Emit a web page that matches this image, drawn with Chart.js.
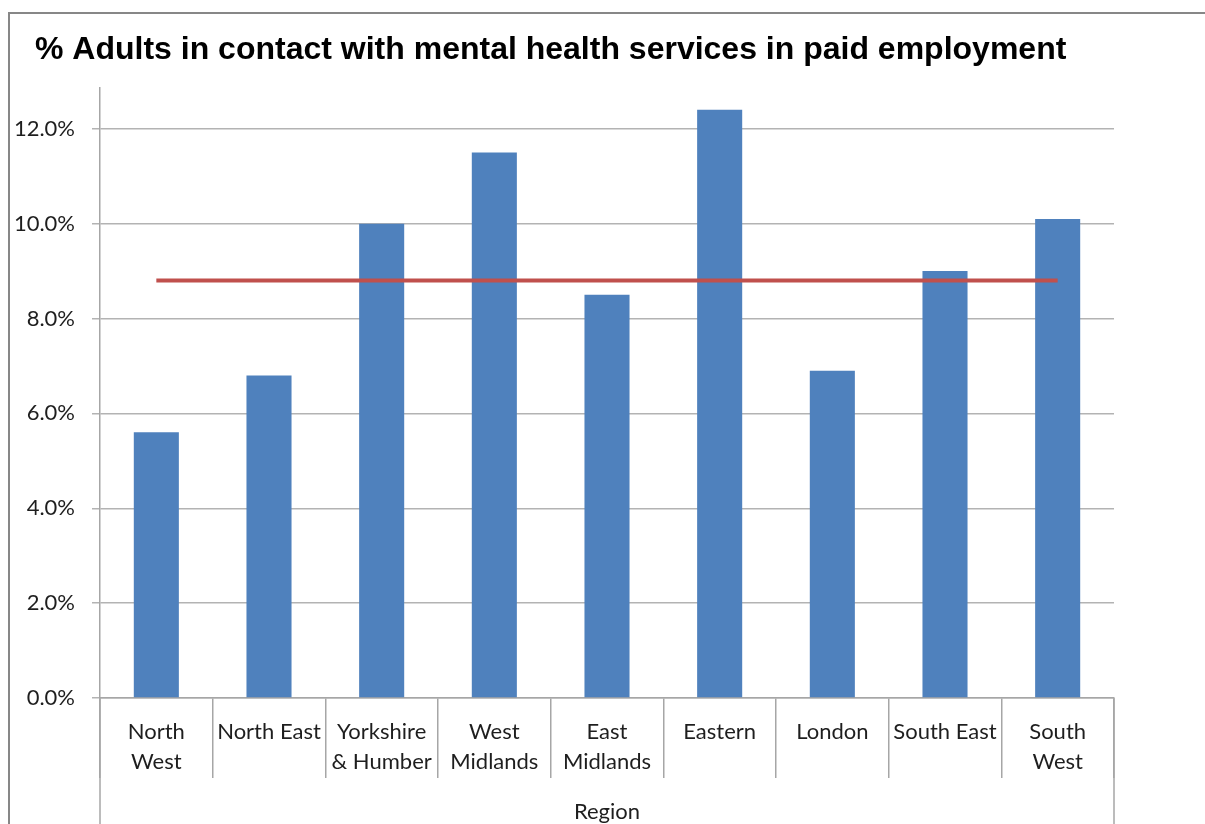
<!DOCTYPE html>
<html>
<head>
<meta charset="utf-8">
<script src="https://cdn.jsdelivr.net/npm/chart.js@4"></script>
<style>
  html, body { margin: 0; padding: 0; background: #fff; overflow: hidden; }
  #wrap { position: relative; width: 1205px; height: 824px; }
  #frame { position: absolute; left: 8px; top: 12px; width: 1300px; height: 900px;
           border-top: 2px solid #878787; border-left: 2px solid #878787; }
  #chart { position: absolute; left: 0; top: 0; }
</style>
</head>
<body>
<div id="wrap">
  <div id="frame"></div>
  <canvas id="chart" width="1205" height="824"></canvas>
</div>
<script>
const chartTitle = '% Adults in contact with mental health services in paid employment';
const regions = [
    ['North', 'West'], 'North East', ['Yorkshire', '& Humber'], ['West', 'Midlands'],
    ['East', 'Midlands'], 'Eastern', 'London', 'South East', ['South', 'West']
];
const employedPct = [5.6, 6.8, 10.0, 11.5, 8.5, 12.4, 6.9, 9.0, 10.1];
const averagePct = [8.8, 8.8, 8.8, 8.8, 8.8, 8.8, 8.8, 8.8, 8.8];
const yTicks = [0, 2, 4, 6, 8, 10, 12];

// title sits left of the plot, so draw it by hand
const titlePlugin = {
    id: 'leftTitle',
    afterDraw(chart) {
        const c = chart.ctx;
        c.save();
        c.fillStyle = '#000';
        c.font = 'bold 32px "Liberation Sans", Arial, sans-serif';
        c.textAlign = 'left';
        c.textBaseline = 'alphabetic';
        c.fillText(chartTitle, 35, 59);
        c.restore();
    }
};

// outer category dividers run down past the label row
const edgeLines = {
    id: 'edgeLines',
    afterDraw(chart) {
        const c = chart.ctx;
        const a = chart.chartArea;
        c.save();
        c.strokeStyle = '#a6a6a6';
        c.lineWidth = 1.5;
        c.beginPath();
        c.moveTo(a.left, a.bottom);
        c.lineTo(a.left, chart.height);
        c.moveTo(a.right, a.bottom);
        c.lineTo(a.right, chart.height);
        c.stroke();
        c.restore();
    }
};

const ctx = document.getElementById('chart').getContext('2d');

new Chart(ctx, {
    data: {
        labels: regions,
        datasets: [{
            type: 'line',
            label: 'Average',
            data: averagePct,
            borderColor: '#c0504d',
            borderWidth: 4,
            pointRadius: 0,
            order: 0
        }, {
            type: 'bar',
            label: '% in paid employment',
            data: employedPct,
            backgroundColor: '#4f81bd',
            barPercentage: 0.4,
            categoryPercentage: 1,
            order: 1
        }]
    },
    options: {
        responsive: false,
        animation: false,
        layout: {
            padding: { left: 8, right: 91, top: 88, bottom: 0 }
        },
        scales: {
            x: {
                grid: {
                    offset: true,
                    drawOnChartArea: false,
                    tickLength: 80,
                    color: '#a6a6a6',
                    lineWidth: 1.5
                },
                border: { color: '#a6a6a6', width: 1.5 },
                ticks: {
                    padding: -61,
                    maxRotation: 0,
                    autoSkip: false,
                    color: '#1e1e1e',
                    font: { family: 'Lato', size: 22, lineHeight: 1.36 }
                },
                title: {
                    display: true,
                    text: 'Region',
                    color: '#1e1e1e',
                    padding: 0,
                    font: { family: 'Lato', size: 22, lineHeight: 1.1 }
                },
                afterFit: function (scale) { scale.height = 126; }
            },
            y: {
                min: 0,
                max: 12.86,
                grid: {
                    color: '#b3b3b3',
                    lineWidth: 1.5,
                    tickLength: 8
                },
                border: { color: '#a6a6a6', width: 1.5 },
                ticks: {
                    stepSize: 2,
                    padding: 17,
                    color: '#1e1e1e',
                    font: { family: 'Lato', size: 22 },
                    callback: function (v) { return v.toFixed(1) + '%'; }
                },
                afterBuildTicks: function (scale) {
                    scale.ticks = yTicks.map(function (v) { return { value: v }; });
                },
                afterFit: function (scale) { scale.width = 92; }
            }
        },
        plugins: {
            legend: { display: false },
            tooltip: { enabled: false },
            title: { display: false }
        }
    },
    plugins: [edgeLines, titlePlugin]
});
</script>
</body>
</html>
